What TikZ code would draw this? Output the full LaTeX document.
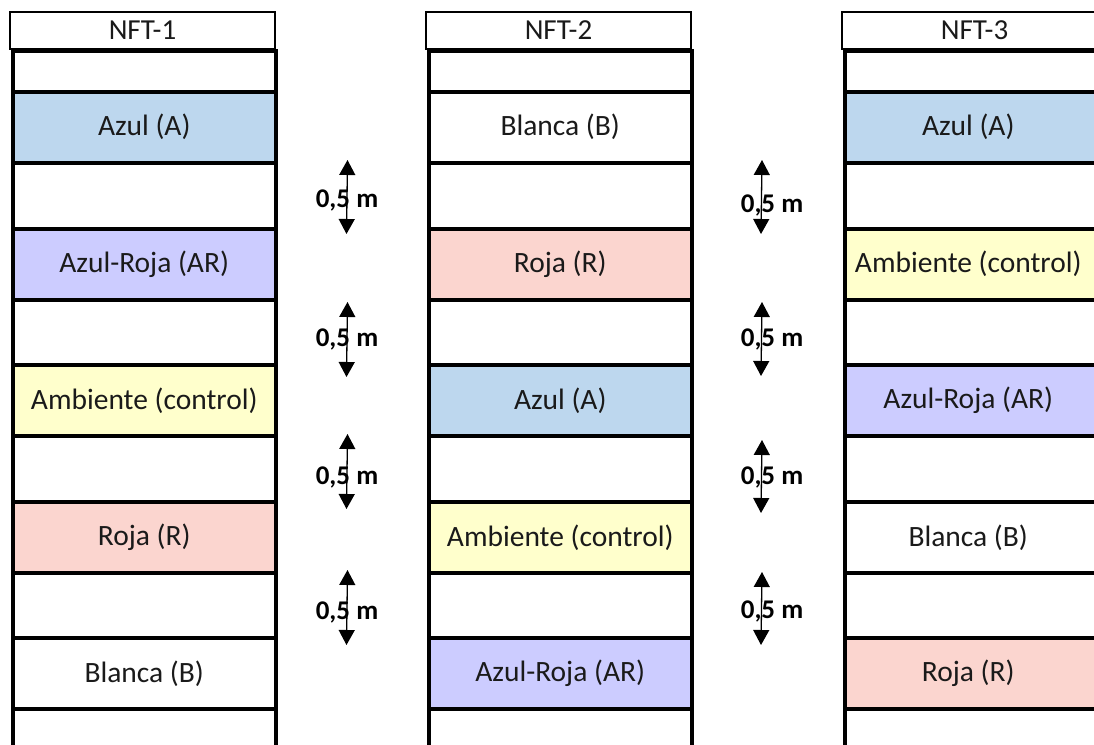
\documentclass[tikz,border=0pt]{standalone}
\usepackage{fontspec}
\setmainfont{Carlito}
\usetikzlibrary{arrows.meta}
\definecolor{azul}{HTML}{BDD7EE}
\definecolor{azulroja}{HTML}{CCCCFF}
\definecolor{ambiente}{HTML}{FFFFCC}
\definecolor{roja}{HTML}{FBD5CF}
\definecolor{txt}{HTML}{1A1A1A}
\tikzset{
  header/.style={draw=black, line width=1.5pt, fill=white, minimum width=265pt, minimum height=37pt,
    inner sep=0pt, text=txt, font=\fontsize{29}{33}\selectfont},
  cell/.style={draw=black, line width=3.5pt, minimum width=263pt, inner sep=0pt,
    anchor=north west, text=txt, font=\fontsize{29.5}{33}\selectfont},
  dimarrow/.style={line width=1.3pt, {Triangle[width=16pt,length=15pt]}-{Triangle[width=16pt,length=15pt]}},
  dimlabel/.style={inner sep=0pt, font=\fontsize{27}{31}\selectfont\bfseries, text=black}
}
\begin{document}
\begin{tikzpicture}[x=1pt,y=-1pt]
\useasboundingbox (0,0) rectangle (1094,744);
\clip (0,0) rectangle (1094,744);
\fill[white] (0,0) rectangle (1094,744);

% headers
\node[header] (h1) at (142.5,30.5) {NFT-1};
\node[header] (h2) at (558.5,30.5) {NFT-2};
\node[header] (h3) at (974.5,30.5) {NFT-3};

% column 1
\foreach \r/\yt/\yb/\f/\t in {
  0/49/90/white/{},
  1/90/161/azul/{Azul (A)},
  2/161/227/white/{},
  3/227/298/azulroja/{Azul-Roja (AR)},
  4/298/363/white/{},
  5/363/434/ambiente/{Ambiente (control)},
  6/434/500/white/{},
  7/500/571/roja/{Roja (R)},
  8/571/636/white/{},
  9/636/707/white/{Blanca (B)},
  10/707/770/white/{}}
  {\node[cell, fill=\f, minimum height={\yb-\yt}] (c1r\r) at (11,\yt) {\t};}

% column 2
\foreach \r/\yt/\yb/\f/\t in {
  0/49/90/white/{},
  1/90/161/white/{Blanca (B)},
  2/161/227/white/{},
  3/227/298/roja/{Roja (R)},
  4/298/363/white/{},
  5/363/434/azul/{Azul (A)},
  6/434/500/white/{},
  7/500/571/ambiente/{Ambiente (control)},
  8/571/636/white/{},
  9/636/707/azulroja/{Azul-Roja (AR)},
  10/707/770/white/{}}
  {\node[cell, fill=\f, minimum height={\yb-\yt}] (c2r\r) at (427,\yt) {\t};}

% column 3 (text centred on the visible part)
\foreach \r/\yt/\yb/\f in {
  0/49/90/white,
  1/90/161/azul,
  2/161/227/white,
  3/227/298/ambiente,
  4/298/363/white,
  5/363/434/azulroja,
  6/434/500/white,
  7/500/571/white,
  8/571/636/white,
  9/636/707/roja,
  10/707/770/white}
  {\node[cell, fill=\f, minimum height={\yb-\yt}] (c3r\r) at (843,\yt) {};}
\foreach \r/\t in {1/{Azul (A)}, 3/{Ambiente (control)}, 5/{Azul-Roja (AR)}, 7/{Blanca (B)}, 9/{Roja (R)}}
  {\node[text=txt, font=\fontsize{29.5}{33}\selectfont, inner sep=0pt] (t3r\r) at ([xshift=-8pt]c3r\r.center) {\t};}

% dimension arrows, gap 1
\foreach \i/\yt/\yb/\yl in {1/160/234/200, 2/302/377/339, 3/434/509/477, 4/570/645/612}{
  \coordinate (p\i t) at (347.5,\yt);
  \coordinate (p\i b) at (346.5,\yb);
  \draw[dimarrow] (p\i t) -- (p\i b);
  \node[dimlabel] (pl\i) at (347,\yl) {0,5 m};
}
% dimension arrows, gap 2
\foreach \i/\yt/\yb/\yl in {1/160/234/205, 2/302/376/339, 3/440/513/477, 4/572/645/611}{
  \coordinate (q\i t) at (762,\yt);
  \coordinate (q\i b) at (761,\yb);
  \draw[dimarrow] (q\i t) -- (q\i b);
  \node[dimlabel] (ql\i) at (772,\yl) {0,5 m};
}
\end{tikzpicture}
\end{document}
